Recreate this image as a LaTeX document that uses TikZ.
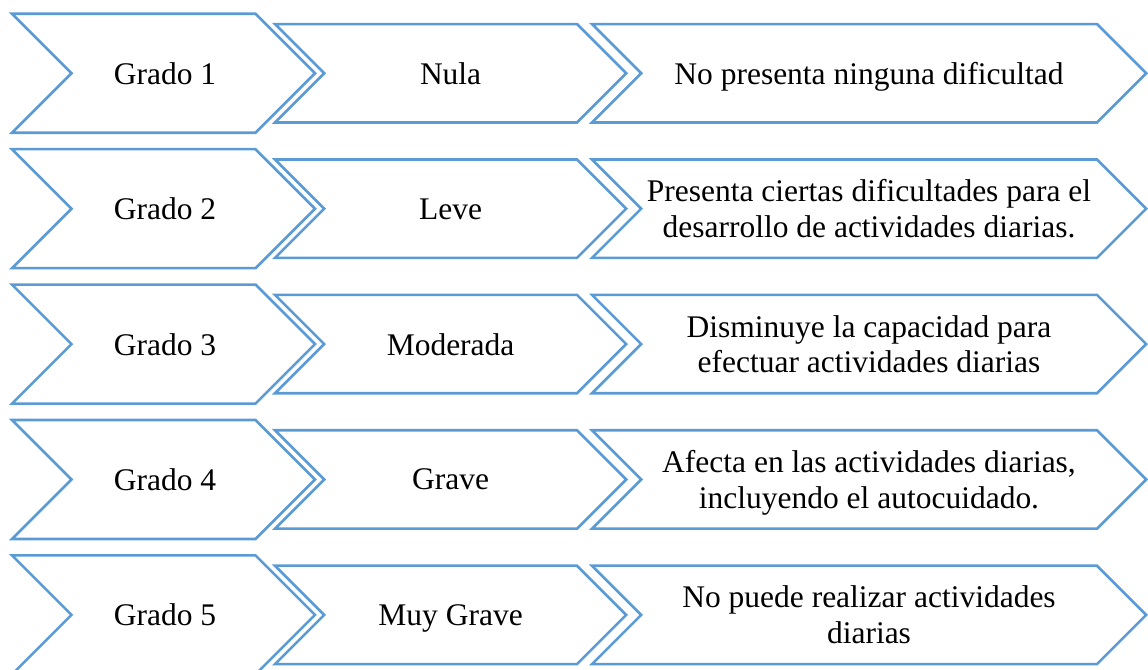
\documentclass[tikz,border=0pt]{standalone}
\usepackage{fontspec}
\setmainfont{Liberation Serif}
\definecolor{chevblue}{RGB}{91,155,213}
\tikzset{
  chevron/.style={draw=chevblue, line width=0.065cm, fill=white, line join=miter},
  chevtext/.style={font=\fontsize{22.4}{25.4}\selectfont, align=center, text depth=0pt, inner sep=0pt}
}
\begin{document}
\begin{tikzpicture}
            \useasboundingbox (0,0) rectangle (28.7,16.75);

            % Row 1
            \draw [chevron] (0.3,16.405) -- (6.3875,16.405) -- (7.875,14.9175) -- (6.3875,13.43) -- (0.3,13.43) -- (1.7875,14.9175) -- cycle;%
            \draw [chevron] (6.875,16.1475) -- (14.425,16.1475) -- (15.655,14.9175) -- (14.425,13.6875) -- (6.875,13.6875) -- (8.105,14.9175) -- cycle;%
            \draw [chevron] (14.8,16.1475) -- (27.425,16.1475) -- (28.655,14.9175) -- (27.425,13.6875) -- (14.8,13.6875) -- (16.03,14.9175) -- cycle;%
            \node [chevtext] (grado1) at (4.125,14.9175) {Grado 1};%
            \node [chevtext] (nivel1) at (11.265,14.9175) {Nula};%
            \node [chevtext] (desc1) at (21.725,14.9175) {No presenta ninguna dificultad};%

            % Row 2
            \draw [chevron] (0.3,13.02) -- (6.3875,13.02) -- (7.875,11.5325) -- (6.3875,10.045) -- (0.3,10.045) -- (1.7875,11.5325) -- cycle;%
            \draw [chevron] (6.875,12.7625) -- (14.425,12.7625) -- (15.655,11.5325) -- (14.425,10.3025) -- (6.875,10.3025) -- (8.105,11.5325) -- cycle;%
            \draw [chevron] (14.8,12.7625) -- (27.425,12.7625) -- (28.655,11.5325) -- (27.425,10.3025) -- (14.8,10.3025) -- (16.03,11.5325) -- cycle;%
            \node [chevtext] (grado2) at (4.125,11.5325) {Grado 2};%
            \node [chevtext] (nivel2) at (11.265,11.5325) {Leve};%
            \node [chevtext] (desc2) at (21.725,11.5325) {Presenta ciertas dificultades para el\\desarrollo de actividades diarias.};%

            % Row 3
            \draw [chevron] (0.3,9.635) -- (6.3875,9.635) -- (7.875,8.1475) -- (6.3875,6.66) -- (0.3,6.66) -- (1.7875,8.1475) -- cycle;%
            \draw [chevron] (6.875,9.3775) -- (14.425,9.3775) -- (15.655,8.1475) -- (14.425,6.9175) -- (6.875,6.9175) -- (8.105,8.1475) -- cycle;%
            \draw [chevron] (14.8,9.3775) -- (27.425,9.3775) -- (28.655,8.1475) -- (27.425,6.9175) -- (14.8,6.9175) -- (16.03,8.1475) -- cycle;%
            \node [chevtext] (grado3) at (4.125,8.1475) {Grado 3};%
            \node [chevtext] (nivel3) at (11.265,8.1475) {Moderada};%
            \node [chevtext] (desc3) at (21.725,8.1475) {Disminuye la capacidad para\\efectuar actividades diarias};%

            % Row 4
            \draw [chevron] (0.3,6.25) -- (6.3875,6.25) -- (7.875,4.7625) -- (6.3875,3.275) -- (0.3,3.275) -- (1.7875,4.7625) -- cycle;%
            \draw [chevron] (6.875,5.9925) -- (14.425,5.9925) -- (15.655,4.7625) -- (14.425,3.5325) -- (6.875,3.5325) -- (8.105,4.7625) -- cycle;%
            \draw [chevron] (14.8,5.9925) -- (27.425,5.9925) -- (28.655,4.7625) -- (27.425,3.5325) -- (14.8,3.5325) -- (16.03,4.7625) -- cycle;%
            \node [chevtext] (grado4) at (4.125,4.7625) {Grado 4};%
            \node [chevtext] (nivel4) at (11.265,4.7625) {Grave};%
            \node [chevtext] (desc4) at (21.725,4.7625) {Afecta en las actividades diarias,\\incluyendo el autocuidado.};%

            % Row 5
            \draw [chevron] (0.3,2.865) -- (6.3875,2.865) -- (7.875,1.3775) -- (6.3875,-0.11) -- (0.3,-0.11) -- (1.7875,1.3775) -- cycle;%
            \draw [chevron] (6.875,2.6075) -- (14.425,2.6075) -- (15.655,1.3775) -- (14.425,0.1475) -- (6.875,0.1475) -- (8.105,1.3775) -- cycle;%
            \draw [chevron] (14.8,2.6075) -- (27.425,2.6075) -- (28.655,1.3775) -- (27.425,0.1475) -- (14.8,0.1475) -- (16.03,1.3775) -- cycle;%
            \node [chevtext] (grado5) at (4.125,1.3775) {Grado 5};%
            \node [chevtext] (nivel5) at (11.265,1.3775) {Muy Grave};%
            \node [chevtext] (desc5) at (21.725,1.3775) {No puede realizar actividades\\diarias};%
\end{tikzpicture}
\end{document}
